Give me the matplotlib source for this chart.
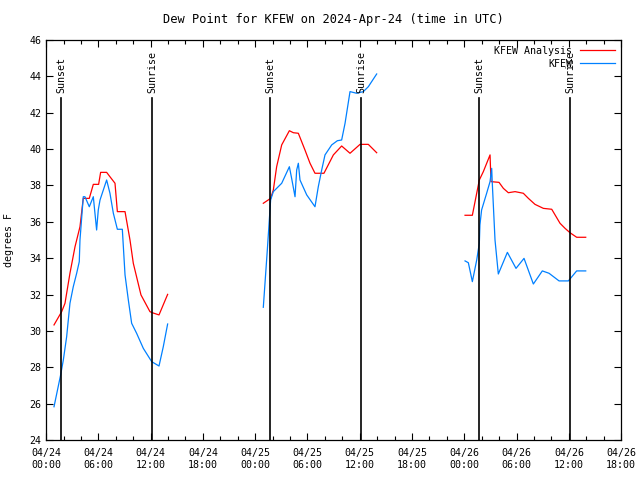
import numpy as np
import matplotlib
matplotlib.use("Agg")
import matplotlib.pyplot as plt
from matplotlib.ticker import MultipleLocator

# hours since 04/24 00:00 UTC
ana_t1 = [0.91, 1.79, 2.17, 2.74, 3.32, 3.89, 4.20, 4.27, 4.96, 5.42, 6.03, 6.26, 6.95, 7.33, 7.91,
          8.18, 9.06, 9.63, 10.01, 10.89, 11.92, 12.19, 12.96, 13.95]
ana_v1 = [30.33, 31.06, 31.52, 33.17, 34.63, 35.73, 37.02, 37.29, 37.29, 38.06, 38.06, 38.72, 38.72, 38.48, 38.12,
          36.56, 36.56, 35.0, 33.72, 31.98, 31.06, 31.0, 30.88, 32.01]
ana_t2 = [24.93, 25.77, 26.08, 26.46, 27.04, 27.92, 28.38, 28.95, 29.71, 30.29, 30.86, 31.89, 32.97, 33.92,
          34.88, 36.03, 36.98, 37.94]
ana_v2 = [37.02, 37.29, 37.75, 39.03, 40.23, 41.01, 40.9, 40.87, 39.95, 39.22, 38.67, 38.67, 39.68, 40.17,
          39.77, 40.26, 40.26, 39.8]
ana_t3 = [48.08, 48.92, 49.72, 50.18, 50.95, 51.06, 51.98, 52.48, 53.05, 53.82, 54.77, 55.35, 56.11, 57.07,
          58.03, 58.98, 59.56, 60.13, 60.89, 61.93]
ana_v3 = [36.36, 36.36, 38.3, 38.76, 39.68, 38.21, 38.17, 37.84, 37.6, 37.66, 37.57, 37.29, 36.96, 36.74,
          36.69, 35.92, 35.64, 35.4, 35.15, 35.15]

obs_t1 = [0.91, 1.67, 1.98, 2.36, 2.74, 3.12, 3.51, 3.81, 3.89, 4.08, 4.27, 4.46, 4.96, 5.42, 5.80, 5.99,
          6.19, 6.95, 7.33, 7.72, 8.18, 8.75, 9.06, 9.44, 9.82, 10.39, 11.16, 12.12, 12.96, 13.45, 13.95]
obs_v1 = [25.83, 27.58, 28.4, 29.68, 31.52, 32.43, 33.17, 33.81, 35.0, 36.19, 37.38, 37.38, 36.83, 37.38, 35.55,
          36.65, 37.2, 38.3, 37.57, 36.47, 35.59, 35.59, 33.08, 31.7, 30.42, 29.87, 29.04, 28.31, 28.07, 29.13, 30.38]
obs_t2 = [24.93, 25.39, 25.77, 26.08, 27.04, 27.92, 28.18, 28.57, 28.76, 28.95, 29.14, 29.91, 30.86, 31.24,
          31.63, 32.01, 32.78, 33.43, 33.92, 34.31, 34.88, 35.64, 36.41, 36.98, 37.94]
obs_v2 = [31.3, 34.45, 37.2, 37.66, 38.12, 39.03, 38.39, 37.38, 38.85, 39.22, 38.3, 37.48, 36.83, 37.93,
          38.85, 39.68, 40.23, 40.46, 40.5, 41.42, 43.16, 43.07, 43.16, 43.43, 44.13]
obs_t3 = [48.08, 48.46, 48.92, 49.42, 49.72, 49.79, 49.98, 50.56, 50.95, 51.14, 51.2, 51.52, 51.9, 52.94,
          53.93, 54.85, 55.92, 56.95, 57.72, 58.87, 59.94, 60.89, 61.93]
obs_v3 = [33.85, 33.75, 32.71, 33.9, 34.82, 35.83, 36.65, 37.57, 38.21, 38.94, 38.21, 35.0, 33.13, 34.32,
          33.44, 33.99, 32.58, 33.3, 33.17, 32.75, 32.75, 33.3, 33.3]

sunset = [1.73, 25.72, 49.71]
sunrise = [12.17, 36.16, 60.15]

tick_hours = [0, 6, 12, 18, 24, 30, 36, 42, 48, 54, 60, 66]
tick_labels = ["04/24\n00:00", "04/24\n06:00", "04/24\n12:00", "04/24\n18:00",
               "04/25\n00:00", "04/25\n06:00", "04/25\n12:00", "04/25\n18:00",
               "04/26\n00:00", "04/26\n06:00", "04/26\n12:00", "04/26\n18:00"]

plt.rcParams['font.family'] = 'DejaVu Sans Mono'
plt.rcParams['font.size'] = 7.2

fig = plt.figure(figsize=(6.4, 4.8), dpi=100)
ax = fig.add_axes([0.072, 0.0833, 0.8986, 0.8334])

red = '#ff0000'
blue = '#0080ff'
ax.plot(ana_t1, ana_v1, color=red, lw=0.9, label='KFEW Analysis')
ax.plot(ana_t2, ana_v2, color=red, lw=0.9)
ax.plot(ana_t3, ana_v3, color=red, lw=0.9)
ax.plot(obs_t1, obs_v1, color=blue, lw=0.9, label='KFEW')
ax.plot(obs_t2, obs_v2, color=blue, lw=0.9)
ax.plot(obs_t3, obs_v3, color=blue, lw=0.9)

# sunset / sunrise markers
for t in sunset:
    ax.plot([t, t], [24, 42.8], color='black', lw=1.2)
    ax.text(t, 43.1, 'Sunset', rotation=90, ha='center', va='bottom')
for t in sunrise:
    ax.plot([t, t], [24, 42.8], color='black', lw=1.2)
    ax.text(t, 43.1, 'Sunrise', rotation=90, ha='center', va='bottom')

ax.set_xlim(0, 66)
ax.set_ylim(24, 46)
ax.set_xticks(tick_hours)
ax.set_xticklabels(tick_labels)
ax.xaxis.set_minor_locator(MultipleLocator(2))
ax.yaxis.set_major_locator(MultipleLocator(2))
ax.tick_params(which='both', direction='in', top=True, right=True, width=0.8)
ax.tick_params(which='major', length=5)
ax.tick_params(which='minor', length=3)
ax.tick_params(axis='x', pad=6)
for s in ax.spines.values():
    s.set_linewidth(0.9)

ax.set_ylabel('degrees F')
ax.yaxis.set_label_coords(-0.056, 0.5)
ax.set_title('Dew Point for KFEW on 2024-Apr-24 (time in UTC)', pad=12)
ax.legend(loc='upper right', frameon=False, markerfirst=False, handlelength=3.5,
          borderaxespad=0.2, labelspacing=0.3, handletextpad=0.8)

fig.savefig('out.png', dpi=100)
